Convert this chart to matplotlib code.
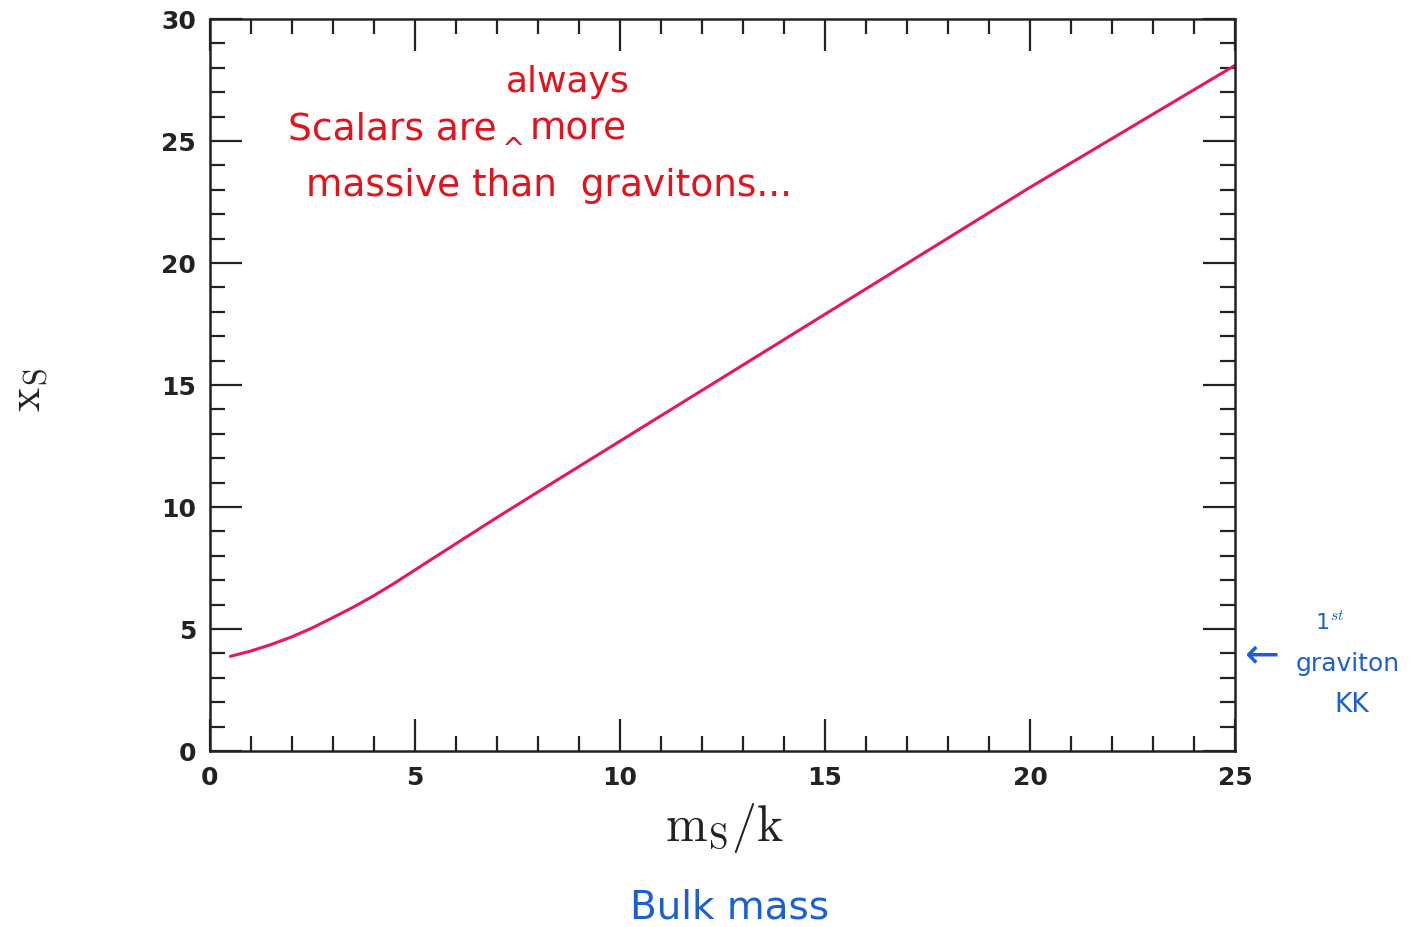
import matplotlib as mpl
import matplotlib.pyplot as plt

# bulk mass m_s/k vs root x_s
mass = [0.5, 1, 1.5, 2, 2.5, 3, 3.5, 4, 4.5, 5, 6, 7, 8, 10,
        12.5, 15, 17.5, 20, 22.5, 25]
xs = [3.88, 4.1, 4.37, 4.68, 5.05, 5.47, 5.9, 6.37, 6.88, 7.42, 8.5, 9.57,
      10.62, 12.7, 15.3, 17.9, 20.5, 23.1, 25.6, 28.1]

x_ticks = [0, 5, 10, 15, 20, 25]
y_ticks = [0, 5, 10, 15, 20, 25, 30]

mpl.rcParams['mathtext.fontset'] = 'cm'

W, H = 1413, 928
fig = plt.figure(figsize=(W / 100, H / 100), dpi=100)
ax = fig.add_axes([210 / W, 1 - 752 / H, (1235 - 210) / W, (752 - 20) / H])

ax.plot(mass, xs, color='#e8175d', lw=2.2, solid_capstyle='round')

ax.set_xlim(0, 25)
ax.set_ylim(0, 30)
ax.set_xticks(x_ticks)
ax.set_yticks(y_ticks)
ax.set_xticks(range(0, 26), minor=True)
ax.set_yticks(range(0, 31), minor=True)
ax.tick_params(which='both', direction='in', top=True, right=True,
               width=1.6, color='#222222')
ax.tick_params(which='major', length=23, pad=10, labelsize=18)
ax.tick_params(which='minor', length=11)
for lab in ax.get_xticklabels() + ax.get_yticklabels():
    lab.set_family('DejaVu Sans')
    lab.set_fontweight('bold')
    lab.set_color('#222222')
for s in ax.spines.values():
    s.set_linewidth(1.8)
    s.set_color('#222222')

fig.text(725 / W, 1 - 828 / H, r'$\mathrm{m_S/k}$', fontsize=36,
         ha='center', va='center', color='#222222')
fig.text(28 / W, 1 - 390 / H, r'$\mathrm{x_S}$', fontsize=33, rotation=90,
         ha='center', va='center', color='#222222')

# handwritten notes
red = '#e3121c'
blue = '#1b5fd6'
fig.text(568 / W, 1 - 82 / H, 'always', color=red, fontsize=26,
         ha='center', va='center')
fig.text(288 / W, 1 - 130 / H, 'Scalars are', color=red, fontsize=27,
         ha='left', va='center')
fig.text(513 / W, 1 - 150 / H, '^', color=red, fontsize=20,
         ha='center', va='center')
fig.text(530 / W, 1 - 130 / H, 'more', color=red, fontsize=27,
         ha='left', va='center')
fig.text(306 / W, 1 - 186 / H, 'massive than  gravitons...', color=red,
         fontsize=27, ha='left', va='center')

fig.text(1262 / W, 1 - 655 / H, '\u2190', color=blue, fontsize=30,
         ha='center', va='center')
fig.text(1330 / W, 1 - 622 / H, '1$^{st}$', color=blue, fontsize=16,
         ha='center', va='center')
fig.text(1348 / W, 1 - 664 / H, 'graviton', color=blue, fontsize=18,
         ha='center', va='center')
fig.text(1352 / W, 1 - 705 / H, 'KK', color=blue, fontsize=19,
         ha='center', va='center')
fig.text(729 / W, 1 - 908 / H, 'Bulk mass', color=blue, fontsize=28,
         ha='center', va='center')

fig.savefig('out.png', dpi=100)
